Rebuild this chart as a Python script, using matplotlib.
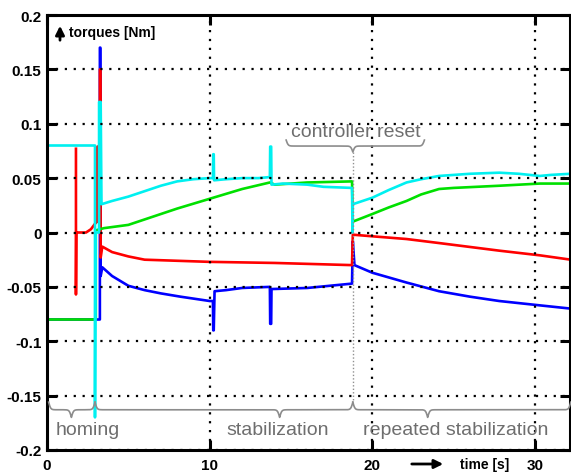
import numpy as np
import matplotlib
matplotlib.use("Agg")
import matplotlib.pyplot as plt

plt.rcParams['axes.unicode_minus'] = False
plt.rcParams['font.family'] = ['Liberation Sans Narrow', 'Liberation Sans', 'DejaVu Sans']

# ---------------- data ----------------
cyan_t = [0, 0, 2.95, 2.95, 2.98, 3.2, 3.2, 3.3, 3.35, 4, 5, 6, 7, 8, 9, 10, 10.2, 10.22, 10.25, 10.27,
          11, 12, 13, 13.7, 13.72, 13.78, 13.8, 14.5, 16, 17, 18.75, 18.78, 18.8, 20, 21, 22.1, 23, 24.1,
          26, 27.8, 29, 30.3, 31, 32.2]
cyan_v = [0, 0.08, 0.08, -0.17, 0.0, 0.0, 0.12, 0.12, 0.026, 0.029, 0.033, 0.038, 0.043, 0.047, 0.049, 0.05,
          0.05, 0.072, 0.072, 0.048, 0.049, 0.05, 0.05, 0.051, 0.079, 0.079, 0.044, 0.045, 0.044, 0.042, 0.041,
          0.0, 0.026, 0.032, 0.039, 0.046, 0.049, 0.052, 0.054, 0.055, 0.054, 0.052, 0.053, 0.054]

green_t = [0, 3.0, 3.0, 3.5, 4, 5, 6, 7, 8, 10, 12, 13.7, 14, 16, 18.75, 18.8, 20, 21, 22.1, 23, 24.1,
           25, 27.8, 30.3, 32.2]
green_v = [-0.08, -0.08, 0.002, 0.004, 0.005, 0.007, 0.012, 0.017, 0.022, 0.031, 0.040, 0.046, 0.044, 0.046,
           0.047, 0.010, 0.017, 0.023, 0.029, 0.035, 0.040, 0.041, 0.043, 0.045, 0.045]

red_t = [1.78, 1.78, 1.8, 2.4, 2.7, 2.95, 3.08, 3.1, 3.13, 3.15, 3.25, 3.25, 3.28, 3.3, 3.4, 4, 5, 6, 8, 10,
         14, 18.75, 18.8, 20, 22.1, 24.1, 27.8, 30.3, 32.2]
red_v = [0.077, -0.057, 0.0, 0.0, 0.003, 0.008, 0.010, 0.079, 0.079, 0.010, 0.12, 0.15, 0.15, -0.023, -0.013,
         -0.018, -0.022, -0.025, -0.026, -0.027, -0.028, -0.030, -0.002, -0.0035, -0.006, -0.0097, -0.0167,
         -0.021, -0.025]

blue_t = [0, 3.05, 3.25, 3.25, 3.28, 3.3, 3.4, 4, 5, 6, 7, 8.2, 10, 10.2, 10.22, 10.25, 10.3, 11, 12, 13.7,
          13.72, 13.78, 13.8, 16, 18.75, 18.8, 18.9, 20, 22.1, 24.1, 26, 27.8, 30.3, 32.2]
blue_v = [-0.08, -0.08, -0.08, 0.17, 0.17, -0.04, -0.032, -0.040, -0.049, -0.053, -0.056, -0.059, -0.063,
          -0.063, -0.090, -0.090, -0.054, -0.053, -0.051, -0.050, -0.084, -0.084, -0.052, -0.051, -0.047,
          -0.008, -0.030, -0.037, -0.046, -0.054, -0.059, -0.063, -0.067, -0.070]

x_ticks = [0, 10, 20, 30]
x_tick_labels = ['0', '10', '20', '30']
y_ticks = [-0.2, -0.15, -0.1, -0.05, 0, 0.05, 0.1, 0.15, 0.2]
y_tick_labels = ['-0.2', '-0.15', '-0.1', '-0.05', '0', '0.05', '0.1', '0.15', '0.2']

phase_labels = ['homing', 'stabilization', 'repeated stabilization']
phase_bounds = [(0.1, 1.5, 2.95), (2.95, 14.3, 18.8), (18.8, 23.4, 32.2)]
phase_label_x = [2.49, 14.19, 25.15]
reset_time = 18.8

# ---------------- figure ----------------
fig = plt.figure(figsize=(5.71, 4.77), dpi=100)
ax = fig.add_axes([47 / 571, 26 / 477, 523 / 571, 435 / 477])

lw = 1.9
ax.plot(blue_t, blue_v, color='#0000ff', lw=lw, zorder=2)
ax.plot(red_t, red_v, color='#ff0000', lw=lw, zorder=2)
ax.plot(green_t, green_v, color='#00e000', lw=lw, zorder=2)
ax.plot(cyan_t, cyan_v, color='#00f0f0', lw=lw, zorder=2)

ax.set_xlim(0, 32.15)
ax.set_ylim(-0.2, 0.2)
ax.set_xticks(x_ticks)
ax.set_xticklabels(x_tick_labels)
ax.set_yticks(y_ticks)
ax.set_yticklabels(y_tick_labels)

ax.set_axisbelow(False)
ax.grid(True, color='black', linestyle=(0, (1, 3)), linewidth=1.6)
for s in ax.spines.values():
    s.set_linewidth(2.2)
    s.set_zorder(5)
ax.tick_params(direction='in', length=7, width=2.2, top=True, right=True,
               labelsize=11)
ax.tick_params(axis='y', pad=4)
ax.tick_params(axis='x', pad=6)
for lab in ax.get_xticklabels() + ax.get_yticklabels():
    lab.set_fontweight('bold')


def sig(z):
    return 1.0 / (1.0 + np.exp(-z))


def brace(x0, xt, x1, ytop, depth, beta=16, **kw):
    xl = np.linspace(x0, xt, 300)
    yl = sig(beta * (xl - x0)) + sig(beta * (xl - xt))
    xr = np.linspace(xt, x1, 300)
    yr = sig(beta * (x1 - xr)) + sig(beta * (xt - xr))
    xs = np.concatenate([xl, xr])
    ys = np.concatenate([yl, yr])
    ax.plot(xs, ytop - (ys - 0.5) * depth, clip_on=False, zorder=6, **kw)


gray = '#6e6e6e'
bcol = '#8c8c8c'
for (x0, xt, x1), lab, lx in zip(phase_bounds, phase_labels, phase_label_x):
    brace(x0, xt, x1, -0.156, 0.0140, color=bcol, lw=1.2)
    ax.text(lx, -0.1816, lab, ha='center', va='center', fontsize=14, color=gray,
            family=['Liberation Sans', 'DejaVu Sans'], zorder=6)

# controller reset
brace(14.7, reset_time, 23.2, 0.085, 0.011, color=bcol, lw=1.2)
ax.text(18.98, 0.0925, 'controller reset', ha='center', va='center', fontsize=14, color=gray,
        family=['Liberation Sans', 'DejaVu Sans'], zorder=6)
ax.plot([reset_time, reset_time], [0.074, -0.156], color='#909090', lw=1.0,
        linestyle=(0, (1, 1.5)), zorder=3)

# axis annotations
ax.annotate('', xy=(60 / 571, (477 - 24) / 477), xytext=(60 / 571, (477 - 44) / 477),
            xycoords='figure fraction', textcoords='figure fraction',
            arrowprops=dict(arrowstyle='-|>', color='black', lw=2.0, mutation_scale=13))
fig.text(69 / 571, (477 - 33) / 477, 'torques [Nm]', ha='left', va='center', fontsize=10,
         fontweight='bold', family=['Liberation Sans', 'DejaVu Sans'])
ax.annotate('', xy=(446 / 571, (477 - 465) / 477), xytext=(409 / 571, (477 - 465) / 477),
            xycoords='figure fraction', textcoords='figure fraction',
            arrowprops=dict(arrowstyle='-|>', color='black', lw=2.0, mutation_scale=13))
fig.text(460 / 571, (477 - 465) / 477, 'time [s]', ha='left', va='center', fontsize=10,
         fontweight='bold', family=['Liberation Sans', 'DejaVu Sans'])

fig.savefig('out.png', dpi=100)
